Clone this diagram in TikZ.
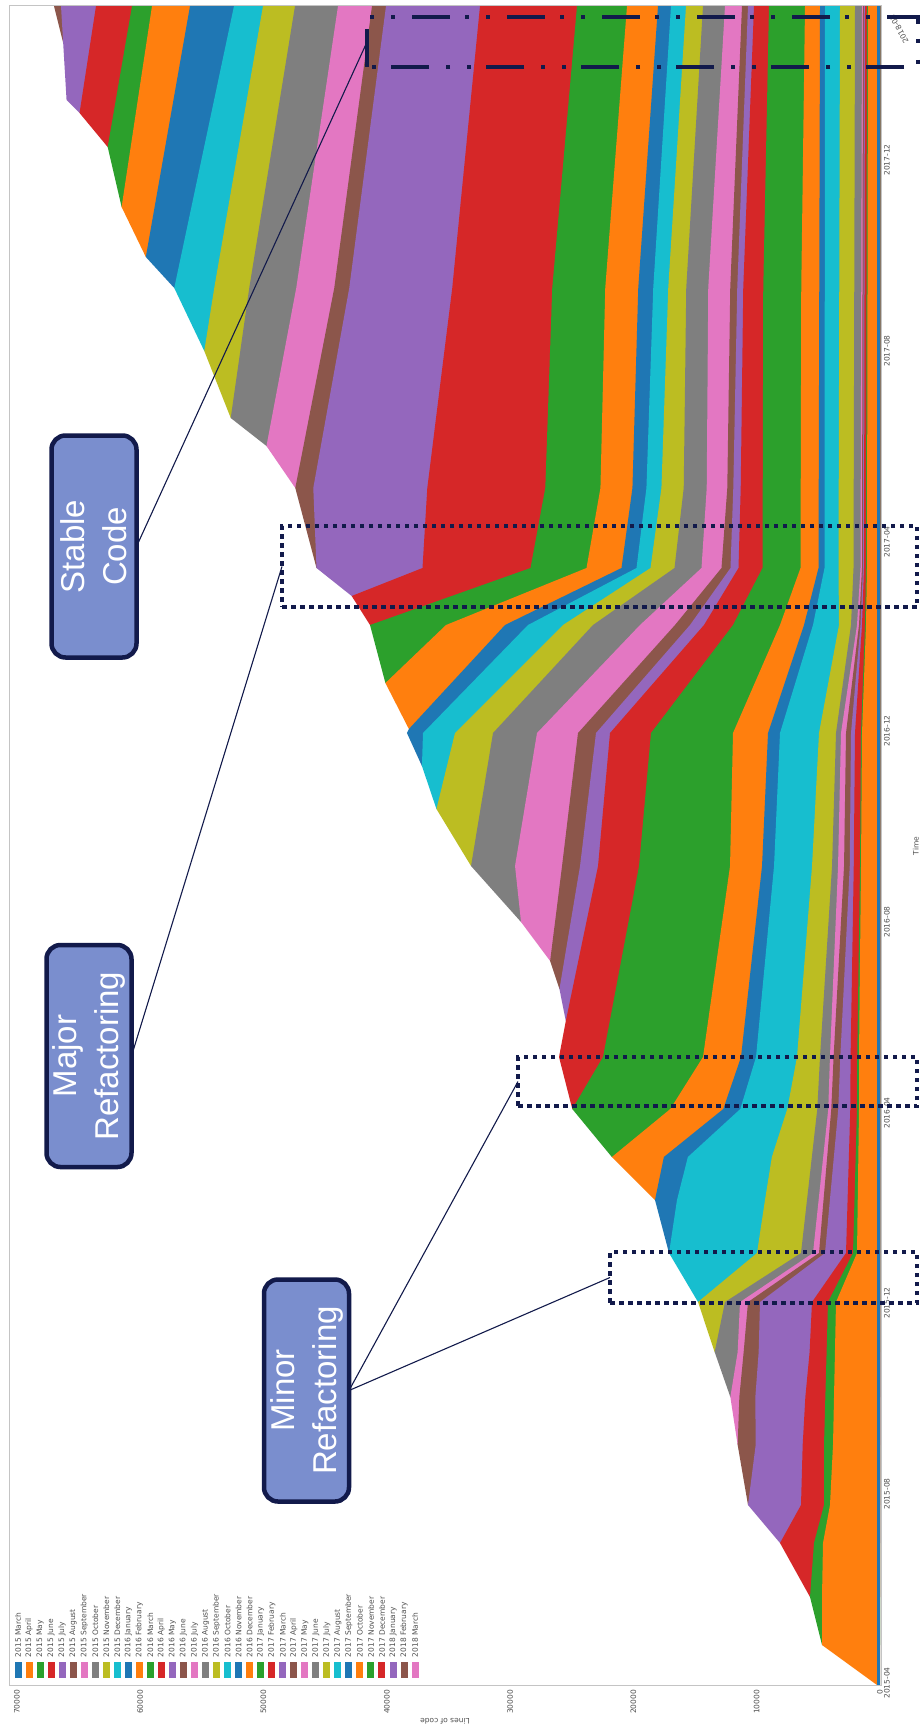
\documentclass[tikz,border=0pt]{standalone}
\usepackage{fontspec}
\setmainfont{DejaVu Sans}
\newfontfamily\calloutfont{Liberation Sans}

\definecolor{tab0}{HTML}{1F77B4}
\definecolor{tab1}{HTML}{FF7F0E}
\definecolor{tab2}{HTML}{2CA02C}
\definecolor{tab3}{HTML}{D62728}
\definecolor{tab4}{HTML}{9467BD}
\definecolor{tab5}{HTML}{8C564B}
\definecolor{tab6}{HTML}{E377C2}
\definecolor{tab7}{HTML}{7F7F7F}
\definecolor{tab8}{HTML}{BCBD22}
\definecolor{tab9}{HTML}{17BECF}
\definecolor{calloutfill}{HTML}{7A8ECE}
\definecolor{navy}{HTML}{121A4B}
\definecolor{axisgray}{HTML}{C4C4C4}
\definecolor{labelgray}{HTML}{505050}

\pgfdeclarelayer{front}
\pgfsetlayers{main,front}

% Width (pt) of every monthly cohort of code, given as time/width pairs.
% Time is measured upward from the 2015-04 baseline of the rotated plot.
\newcommand\setcohort[2]{\expandafter\def\csname cohort#1\endcsname{#2}}
\def\firstpair#1/#2,#3\relax{#1}

\setcohort{0}{0/3,1679/3}
\setcohort{1}{0/0,40/55,88/55,142/54,180/47,240/44,383/41,432/20,576/18,628/18,819/16,952/15,1060/11,1117/10,1397/9.5,1679/9}
\setcohort{2}{40/0,88/12,142/9,180/6,240/9,383/8,432/4,576/2,819/1,1679/1}
\setcohort{3}{88/0,142/34,180/23,288/20,333/17,383/16,432/7,952/6,1060/3,1117/2,1679/2}
\setcohort{4}{142/0,180/53,240/47,288/50,383/52,432/21,576/12,819/4,952/4,1060/1.5,1117/1,1679/1}
\setcohort{5}{180/0,240/18,288/16,333/15,383/12,432/6,576/7,952/5,1060/1.5,1117/1,1679/1}
\setcohort{6}{240/0,288/9,333/6,383/8,432/6,576/3,819/6,952/5,1060/2,1117/1.5,1679/1}
\setcohort{7}{288/0,333/23,383/15,432/12,576/11,819/6,952/5,1060/6,1117/7,1679/7}
\setcohort{8}{333/0,383/27,432/44,485/42,528/40,576/30,628/23,819/20,952/17,1060/12,1117/15,1679/15}
\setcohort{9}{383/0,432/88,485/88,528/84,576/47,628/41,819/38,952/39,1060/26,1117/14,1679/15}
\setcohort{10}{432/0,485/22,528/24,576/17,628/15,819/12,952/12,1060/9,1117/6,1679/5}
\setcohort{11}{485/0,528/52,576/53,628/38,819/32,952/35,1060/24,1117/18,1397/18,1679/15}
\setcohort{12}{528/0,576/98,628/100,819/91,952/82,1060/47,1117/38,1397/38,1679/36}
\setcohort{13}{576/0,628/44,664/44,819/41,952/41,1060/29,1117/24,1197/22,1397/20,1679/15}
\setcohort{14}{664/0,696/13,819/18,952/14,1060/14,1117/8,1397/6,1679/6}
\setcohort{15}{696/0,724/14,819/18,952/18,1060/15,1117/9,1197/6,1397/7,1679/6}
\setcohort{16}{724/0,763/34,819/47,952/41,1060/35,1117/20,1397/22,1679/17}
\setcohort{17}{763/0,819/44,952/44,1060/47,1117/27,1197/23,1397/22,1679/22}
\setcohort{18}{819/0,876/44,952/38,1060/30,1117/24,1397/18,1679/17}
\setcohort{19}{876/0,919/25,952/32,1060/35,1117/14,1197/15,1679/15}
\setcohort{20}{919/0,956/18,1060/23,1117/15,1197/14,1397/15,1679/13}
\setcohort{21}{956/0,1002/66,1060/59,1117/35,1197/32,1397/33,1679/31}
\setcohort{22}{1002/0,1060/76,1117/56,1397/53,1679/50}
\setcohort{23}{1060/0,1089/100,1117/108,1197/118,1397/100,1679/97}
\setcohort{24}{1089/0,1117/106,1197/114,1397/103,1679/94}
\setcohort{25}{1117/0,1197/18,1397/15,1679/14}
\setcohort{26}{1197/0,1239/37,1397/38,1679/34}
\setcohort{27}{1239/0,1267/41,1397/47,1679/43}
\setcohort{28}{1267/0,1334/36,1397/35,1679/32}
\setcohort{29}{1334/0,1397/40,1679/29}
\setcohort{30}{1397/0,1428/35,1679/44}
\setcohort{31}{1428/0,1478/33,1679/38}
\setcohort{32}{1478/0,1538/23,1679/20}
\setcohort{33}{1538/0,1572/34,1679/36}
\setcohort{34}{1572/0,1585/15,1679/35}
\setcohort{35}{1642/0,1679/7}

\def\snapshots{0,40,88,142,180,240,288,333,383,432,485,528,576,628,664,696,724,763,819,876,919,952,956,1002,1060,1089,1117,1197,1239,1267,1334,1397,1428,1478,1538,1572,1585,1642,1679}

% linear interpolation of a cohort's width at a given time -> \cwres
\newcommand\cohortwidth[2]{%
  \expandafter\let\expandafter\plist\csname cohort#1\endcsname
  \xdef\onsetT{\expandafter\firstpair\plist,\relax}%
  \ifdim #2pt<\onsetT pt\relax
    \gdef\cwres{0}%
  \else
    \gdef\cwres{0}\gdef\lastT{-1}\gdef\lastW{0}%
    \foreach \pT/\pW in \plist {%
      \pgfmathparse{ifthenelse(and(#2>\lastT,#2<\pT+0.5),\lastW+(\pW-\lastW)*((#2-\lastT)/(\pT-\lastT)),\cwres)}%
      \xdef\cwres{\pgfmathresult}%
      \xdef\lastT{\pT}\xdef\lastW{\pW}%
    }%
    \pgfmathparse{ifthenelse(#2>\lastT,\lastW,\cwres)}\xdef\cwres{\pgfmathresult}%
  \fi
}

\begin{document}
\begin{tikzpicture}[x=1pt,y=-1pt,
  every node/.style={inner sep=0pt,outer sep=0pt},
  calloutbox/.style={draw=navy,line width=4.5pt,fill=calloutfill,rounded corners=14pt,
    rotate=90,minimum width=222pt,minimum height=85pt,align=center,text=white,
    font=\calloutfont\fontsize{33}{42}\selectfont},
  dotbox/.style={draw=navy,line width=4.5pt,dash pattern=on 4.5pt off 4.5pt},
  dashdotbox/.style={draw=navy,line width=4.5pt,
    dash pattern=on 38pt off 15pt on 4pt off 17pt on 4pt off 17pt},
  leader/.style={draw=navy,line width=1.1pt},
  ticklabel/.style={font=\fontsize{7.5}{9}\selectfont,text=labelgray},
  legendlabel/.style={font=\fontsize{7.5}{9}\selectfont,text=labelgray,rotate=90,anchor=west},
]
\useasboundingbox (0,0) rectangle (920,1726);
\clip (0,0) rectangle (920,1726);
\fill[white] (0,0) rectangle (920,1726);

% cumulative edge of every cohort at every snapshot (zero lines of code at x=880)
\foreach \snapT in \snapshots {%
  \gdef\runedge{880}%
  \foreach \j in {0,...,35} {%
    \cohortwidth{\j}{\snapT}%
    \pgfmathparse{\runedge-\cwres}\xdef\runedge{\pgfmathresult}%
    \expandafter\xdef\csname edge-\j-\snapT\endcsname{\runedge}%
  }%
}
% outline of every cohort from its first month on
\foreach \j in {0,...,35} {%
  \expandafter\let\expandafter\plist\csname cohort\j\endcsname
  \xdef\onsetT{\expandafter\firstpair\plist,\relax}%
  \gdef\layerpath{}%
  \foreach \snapT in \snapshots {%
    \ifdim\snapT pt<\onsetT pt\relax\else
      \xdef\layerpath{\layerpath -- (\csname edge-\j-\snapT\endcsname,1685-\snapT)}%
    \fi
  }%
  \expandafter\xdef\csname layerpath\j\endcsname{\layerpath}%
  \expandafter\xdef\csname onset\j\endcsname{\onsetT}%
}
% stacked areas: newest cohort first, each filled down to the zero line
\foreach \j in {35,34,...,0} {%
  \pgfmathtruncatemacro\cidx{mod(\j,10)}%
  \edef\drawlayer{\noexpand\fill[tab\cidx] (880,1685-\csname onset\j\endcsname) \csname layerpath\j\endcsname\space -- (880,6) -- cycle;}%
  \drawlayer
}

% plot frame
\draw[axisgray,line width=1pt] (9,6) rectangle (881,1685);

% lines-of-code axis
\foreach \v/\lab in {0/0,10/10000,20/20000,30/30000,40/40000,50/50000,60/60000,70/70000}
  \node[ticklabel,rotate=90,anchor=east] at ({880-\v*12.33},1690) {\lab};
\node[ticklabel,rotate=180] at (445,1721) {Lines of code};

% time axis
\foreach \y/\lab in {1683/2015-04,1494/2015-08,1303/2015-12,1113/2016-04,922/2016-08,731/2016-12,542/2017-04,351/2017-08,160/2017-12}
  \node[ticklabel,rotate=90,anchor=north] at (884,\y) {\lab};
\node[ticklabel,rotate=119] at (899,29) {2018-01};
\node[ticklabel,rotate=90,anchor=north] at (913,846) {Time};

% legend
\foreach \name [count=\i from 0] in {2015 March,2015 April,2015 May,2015 June,2015 July,2015 August,2015 September,2015 October,2015 November,2015 December,2016 January,2016 February,2016 March,2016 April,2016 May,2016 June,2016 July,2016 August,2016 September,2016 October,2016 November,2016 December,2017 January,2017 February,2017 March,2017 April,2017 May,2017 June,2017 July,2017 August,2017 September,2017 October,2017 November,2017 December,2018 January,2018 February,2018 March} {%
  \pgfmathtruncatemacro\cidx{mod(\i,10)}%
  \fill[tab\cidx] ({18+\i*11.03-3.5},1662) rectangle ++(7,16);
  \node[legendlabel] at ({18+\i*11.03},1657) {\name};
}

% highlighted periods
\node[dotbox,minimum width=635pt,minimum height=81pt] (springbox) at (599.5,566.5) {};
\node[dotbox,minimum width=399pt,minimum height=49pt] (aprilbox) at (717.5,1081.5) {};
\node[dotbox,minimum width=307pt,minimum height=51pt] (decbox) at (763.5,1277.5) {};
\draw[dashdotbox] (367,67) -- (367,17) -- (918,17) -- (918,67) -- cycle;
\coordinate (stablespan) at (367,42);

% callouts, kept in front of their leader lines
\begin{pgfonlayer}{front}
\node[calloutbox] (stable) at (94,546.5) {Stable\\Code};
\node[calloutbox] (major) at (89,1056) {Major\\Refactoring};
\node[calloutbox] (minor) at (306.5,1390.5) {Minor\\Refactoring};
\end{pgfonlayer}

\draw[leader] (stable.south) -- (stablespan);
\draw[leader] (major.south) -- (springbox.west);
\draw[leader] (minor.south) -- (aprilbox.west);
\draw[leader] (minor.south) -- (decbox.west);
\end{tikzpicture}
\end{document}
